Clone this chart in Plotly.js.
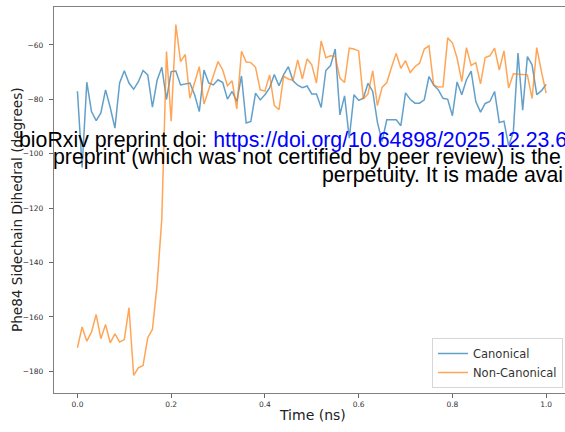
<!DOCTYPE html>
<html><head><meta charset="utf-8">
<script src="https://cdn.plot.ly/plotly-3.0.1.min.js"></script>
<style>html,body{margin:0;padding:0;overflow:hidden;background:#fff}#chart{width:565px;height:432px}</style>
</head><body><div id="chart"></div>
<script>
const timeNs = [0,0.01,0.02,0.03,0.04,0.05,0.06,0.07,0.08,0.09,
0.10,0.11,0.12,0.13,0.14,0.15,0.16,0.17,0.18,0.19,
0.20,0.21,0.22,0.23,0.24,0.25,0.26,0.27,0.28,0.29,
0.30,0.31,0.32,0.33,0.34,0.35,0.36,0.37,0.38,0.39,
0.40,0.41,0.42,0.43,0.44,0.45,0.46,0.47,0.48,0.49,
0.50,0.51,0.52,0.53,0.54,0.55,0.56,0.57,0.58,0.59,
0.60,0.61,0.62,0.63,0.64,0.65,0.66,0.67,0.68,0.69,
0.70,0.71,0.72,0.73,0.74,0.75,0.76,0.77,0.78,0.79,
0.80,0.81,0.82,0.83,0.84,0.85,0.86,0.87,0.88,0.89,
0.90,0.91,0.92,0.93,0.94,0.95,0.96,0.97,0.98,0.99,1.00];

const canonical = [-77,-105,-73.7,-84.5,-87.8,-85,-76.5,-83,-90.6,-74,
-69.5,-74,-76.3,-73.5,-69.4,-71,-82.9,-73,-68.2,-80,
-69.8,-69.6,-74.7,-74.3,-74,-78.3,-84.5,-69.2,-74,-74.7,
-72.8,-73.8,-79.9,-77.1,-80.8,-71.4,-88.7,-88.1,-77.7,-80.2,
-78.3,-75.8,-70.9,-75,-70.9,-68,-73.2,-74.8,-75.7,-75.1,
-78,-78,-83,-69.4,-67.6,-61.5,-85.7,-78.7,-94.3,-78.3,
-80.4,-79.6,-74.1,-77.1,-88.4,-95.5,-87.5,-87.5,-87.5,-89.7,
-77.6,-80,-81.4,-81.4,-80.2,-71.6,-74.7,-76.5,-79.6,-80,
-86,-73.6,-78.3,-72.8,-69.6,-80.8,-84.7,-81.5,-80.8,-77.1,
-88.5,-88,-97,-92,-63,-84,-64.3,-67.3,-78.3,-76.8,-74.5];

const nonCanonical = [-171.3,-163.7,-168.9,-165.6,-159.1,-168,-162.8,-169.5,-166.2,-169.2,
-168.3,-156.6,-181.5,-178.7,-177.8,-167.6,-164.6,-148,-124,-62.4,
-88,-52.5,-66.1,-63.5,-79.6,-73.5,-68,-81.7,-76.2,-71.3,
-66.1,-69.2,-75,-73.2,-83.5,-62.3,-66.3,-66.5,-68.2,-76.5,
-77,-71,-82.2,-83.8,-71.5,-72.5,-73,-65.5,-72.5,-65.1,
-67.3,-74,-58.5,-64.7,-64,-64.2,-72.2,-73.8,-61.2,-61.5,
-62.2,-79.9,-78,-69.5,-82.3,-75.6,-73.8,-68.3,-63.1,-68.6,
-65.8,-70.1,-68,-66.7,-61.5,-60.3,-74.7,-75.5,-75.4,-57.4,
-59.2,-64.8,-73.5,-61,-67.5,-66.5,-74.3,-64.6,-64,-61.2,
-69.2,-62.2,-75.8,-70.6,-70.8,-71,-71,-79.7,-61,-69.8,-77.7];

const seriesNames = ['Canonical', 'Non-Canonical'];
const xTickVals = [0, 0.2, 0.4, 0.6, 0.8, 1.0];
const xTickText = ['0.0', '0.2', '0.4', '0.6', '0.8', '1.0'];
const yTickVals = [-180, -160, -140, -120, -100, -80, -60];
const yTickText = ['\u2212180', '\u2212160', '\u2212140', '\u2212120', '\u2212100', '\u221280', '\u221260'];
const xTitle = 'Time (ns)';
const yTitle = 'Phe84 Sidechain Dihedral (degrees)';
const overlayLine1a = 'bioRxiv preprint doi: ';
const overlayLine1b = 'https://doi.org/10.64898/2025.12.23.6';
const overlayLine2 = 'preprint (which was not certified by peer review) is the';
const overlayLine3 = 'perpetuity. It is made avai';

const W = 565, H = 432;
const M = {l: 54, r: 0, t: 7, b: 39};
const pw = W - M.l - M.r, ph = H - M.t - M.b;
const px2x = p => (p - M.l) / pw;
const py2y = p => (H - M.b - p) / ph;

const tickFont = {family: 'DejaVu Sans', size: 7.5, color: '#333'};
const overlayFont = {family: 'Liberation Sans, Arial', size: 21.3, color: '#000'};

const traces = [
  {x: timeNs, y: canonical, name: seriesNames[0], type: 'scatter', mode: 'lines',
   line: {color: 'rgba(31,119,180,0.7)', width: 1.5}},
  {x: timeNs, y: nonCanonical, name: seriesNames[1], type: 'scatter', mode: 'lines',
   line: {color: 'rgba(255,127,14,0.7)', width: 1.5}}
];

const layout = {
  width: W, height: H,
  margin: M,
  paper_bgcolor: '#fff', plot_bgcolor: '#fff',
  showlegend: true,
  legend: {x: px2x(563), y: py2y(388), xanchor: 'right', yanchor: 'bottom',
    bgcolor: 'rgba(255,255,255,0.8)', bordercolor: '#d6d6d6', borderwidth: 1,
    tracegroupgap: 0, itemwidth: 30,
    font: {family: 'DejaVu Sans', size: 11.5, color: '#333'}},
  xaxis: {range: [-0.05, -0.05 + pw / 468.7], tickvals: xTickVals, ticktext: xTickText,
    ticks: 'outside', ticklen: 4, tickwidth: 1, tickcolor: '#666',
    showline: true, linecolor: '#808080', linewidth: 1.2, mirror: true,
    showgrid: false, zeroline: false, tickfont: tickFont},
  yaxis: {range: [-187.95, -46.05], tickvals: yTickVals, ticktext: yTickText,
    ticks: 'outside', ticklen: 4, tickwidth: 1, tickcolor: '#666',
    showline: true, linecolor: '#808080', linewidth: 1.2,
    showgrid: false, zeroline: false, tickfont: tickFont, ticklabelstandoff: 4},
  annotations: [
    {xref: 'paper', yref: 'paper', x: px2x(312), y: py2y(415), text: xTitle, showarrow: false,
     xanchor: 'center', yanchor: 'middle', font: {family: 'DejaVu Sans', size: 14, color: '#222'}},
    {xref: 'paper', yref: 'paper', x: px2x(17), y: py2y(210), text: yTitle, showarrow: false,
     textangle: -90, xanchor: 'center', yanchor: 'middle', font: {family: 'DejaVu Sans', size: 13.6, color: '#222'}},
    {xref: 'paper', yref: 'paper', x: px2x(17), y: py2y(139.5), showarrow: false,
     text: overlayLine1a + '<span style="color:#0000ff">' + overlayLine1b + '</span>',
     xanchor: 'left', yanchor: 'middle', font: overlayFont},
    {xref: 'paper', yref: 'paper', x: px2x(51), y: py2y(156.5), showarrow: false,
     text: overlayLine2, xanchor: 'left', yanchor: 'middle', font: overlayFont},
    {xref: 'paper', yref: 'paper', x: px2x(320), y: py2y(174.5), showarrow: false,
     text: overlayLine3, xanchor: 'left', yanchor: 'middle', font: overlayFont}
  ]
};

Plotly.newPlot('chart', traces, layout, {displayModeBar: false, staticPlot: true});
</script>
</body></html>
